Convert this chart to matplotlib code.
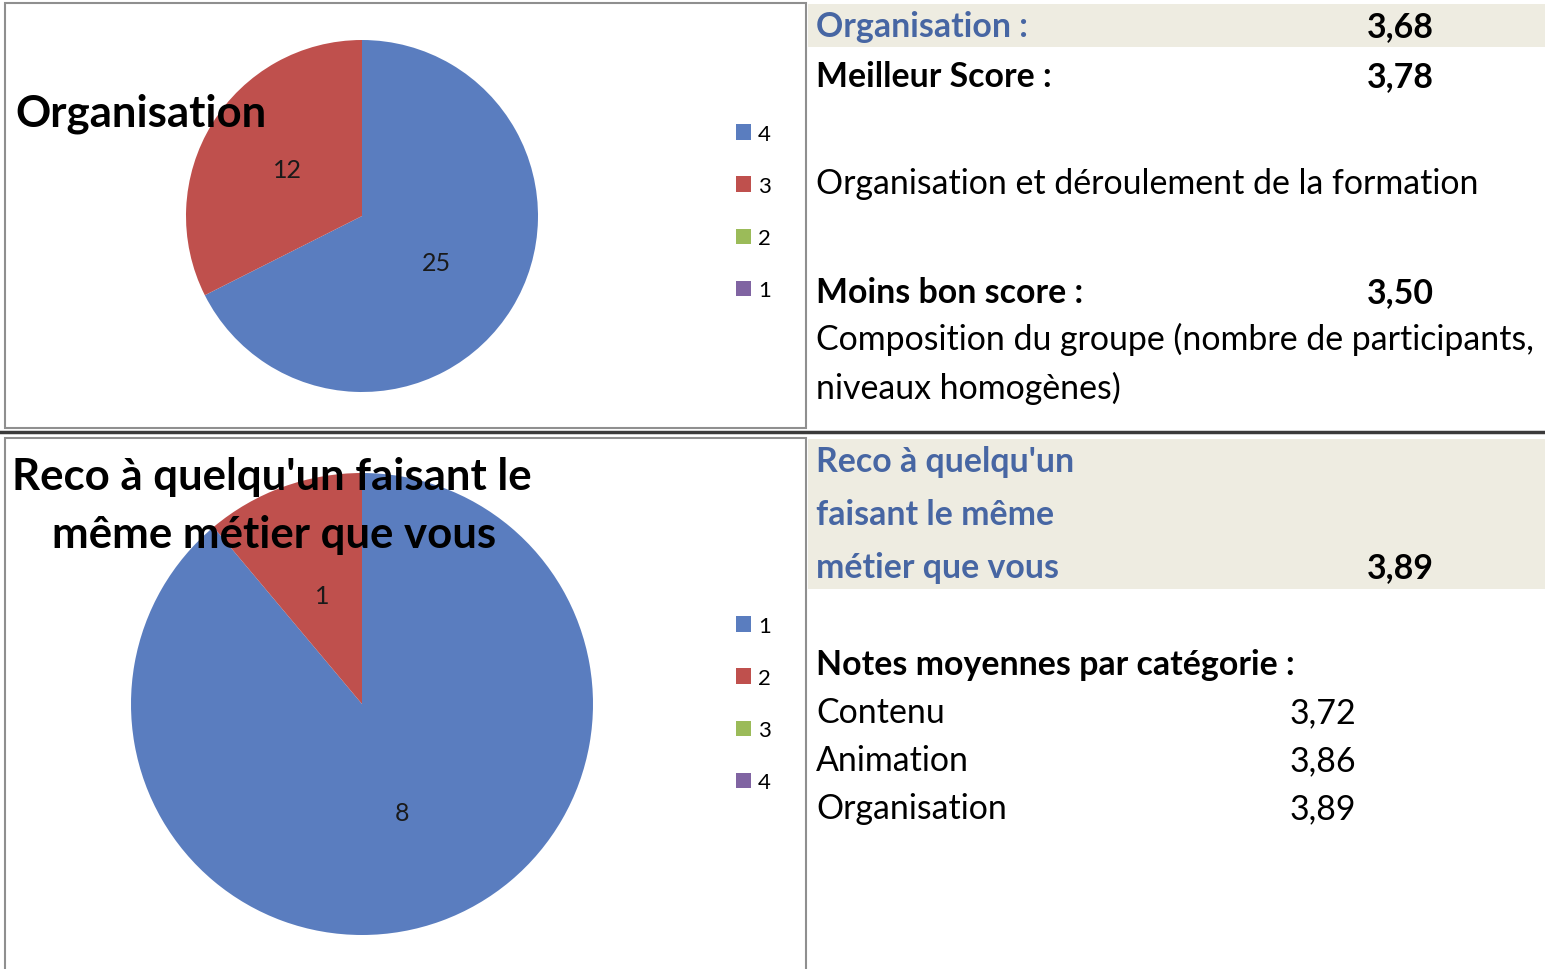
import matplotlib
matplotlib.use("Agg")
import matplotlib.pyplot as plt
from matplotlib.patches import Rectangle
from matplotlib.lines import Line2D

plt.rcParams["font.family"] = ["Lato", "DejaVu Sans"]

# data
org_labels = ["4", "3", "2", "1"]
org_counts = [25, 12, 0, 0]
reco_labels = ["1", "2", "3", "4"]
reco_counts = [8, 1, 0, 0]
pie_colors = ["#5a7dbf", "#bf504d", "#9bbb59", "#8064a2"]

score_org = "3,68"
score_best = "3,78"
best_item = "Organisation et déroulement de la formation"
score_worst = "3,50"
worst_item = ["Composition du groupe (nombre de participants,", "niveaux homogènes)"]
score_reco = "3,89"
cat_names = ["Contenu", "Animation", "Organisation"]
cat_scores = ["3,72", "3,86", "3,89"]

W, H = 1545, 970
fig = plt.figure(figsize=(W / 100, H / 100), dpi=100)
fig.patch.set_facecolor("white")


def fx(x):
    return x / W


def fy(y):
    return 1 - y / H


def box(x0, y0, x1, y1, **kw):
    r = Rectangle((fx(x0), fy(y1)), (x1 - x0) / W, (y1 - y0) / H,
                  transform=fig.transFigure, **kw)
    fig.add_artist(r)


def hline(x0, x1, y, **kw):
    fig.add_artist(Line2D([fx(x0), fx(x1)], [fy(y), fy(y)], transform=fig.transFigure, **kw))


def txt(x, y, s, **kw):
    fig.text(fx(x), fy(y), s, va="baseline", ha="left", **kw)


# beige header bands on the right
box(808, 5, W, 48, facecolor="#eeece1", edgecolor="none", zorder=0)
box(808, 440, W, 590, facecolor="#eeece1", edgecolor="none", zorder=0)

# chart frames
box(5, 4, 806, 429, fill=False, edgecolor="#8f8f8f", linewidth=1.5, zorder=1)
box(5, 439, 806, 975, fill=False, edgecolor="#8f8f8f", linewidth=1.5, zorder=1)
hline(0, W, 433, color="#3a3a3a", linewidth=2.5, zorder=2)


def draw_pie(cx, cy, r, counts, labels, legend_y):
    ax = fig.add_axes([fx(cx - r), fy(cy + r), 2 * r / W, 2 * r / H])
    txts = [str(c) if c > 0 else "" for c in counts]
    wedges, _ = ax.pie(counts, colors=pie_colors, startangle=90, counterclock=False,
                       labels=txts, labeldistance=0.5,
                       wedgeprops=dict(linewidth=0),
                       textprops=dict(fontsize=18, color="#1a1a1a", ha="center", va="center"))
    ax.set_xlim(-1, 1)
    ax.set_ylim(-1, 1)
    ax.set_aspect("auto")
    ax.axis("off")
    ax.legend(wedges, labels, loc="center left", bbox_to_anchor=(fx(736), fy(legend_y)),
              bbox_transform=fig.transFigure, frameon=False, fontsize=16,
              handlelength=0.68, handleheight=0.68, handletextpad=0.3,
              labelspacing=1.45, borderpad=0, borderaxespad=0)
    return ax


draw_pie(362, 217, 176, org_counts, org_labels, 213)
draw_pie(362, 705, 231, reco_counts, reco_labels, 705)

# chart titles
txt(15, 127, "Organisation", fontsize=31.5, fontweight="bold", zorder=5)
fig.text(fx(272), fy(490), "Reco à quelqu'un faisant le", fontsize=31.5, fontweight="bold",
         ha="center", va="baseline", zorder=5)
fig.text(fx(274), fy(548), "même métier que vous", fontsize=31.5, fontweight="bold",
         ha="center", va="baseline", zorder=5)

# right panel text
blue = "#4766a3"
fs = 24.4
txt(816, 37, "Organisation :", fontsize=fs, fontweight="bold", color=blue)
txt(1367, 37, score_org, fontsize=fs, fontweight="bold")
txt(816, 87, "Meilleur Score :", fontsize=fs, fontweight="bold")
txt(1367, 87, score_best, fontsize=fs, fontweight="bold")
txt(816, 194, best_item, fontsize=fs)
txt(816, 303, "Moins bon score :", fontsize=fs, fontweight="bold")
txt(1367, 303, score_worst, fontsize=fs, fontweight="bold")
txt(816, 350, worst_item[0], fontsize=fs)
txt(816, 399, worst_item[1], fontsize=fs)

txt(816, 472, "Reco à quelqu'un", fontsize=fs, fontweight="bold", color=blue)
txt(816, 525, "faisant le même", fontsize=fs, fontweight="bold", color=blue)
txt(816, 578, "métier que vous", fontsize=fs, fontweight="bold", color=blue)
txt(1367, 578, score_reco, fontsize=fs, fontweight="bold")

txt(816, 675, "Notes moyennes par catégorie :", fontsize=fs, fontweight="bold")
for i in range(len(cat_names)):
    txt(816, 723 + 48 * i, cat_names[i], fontsize=fs)
    txt(1290, 723 + 48 * i, cat_scores[i], fontsize=fs)

fig.savefig("out.png", dpi=100)
